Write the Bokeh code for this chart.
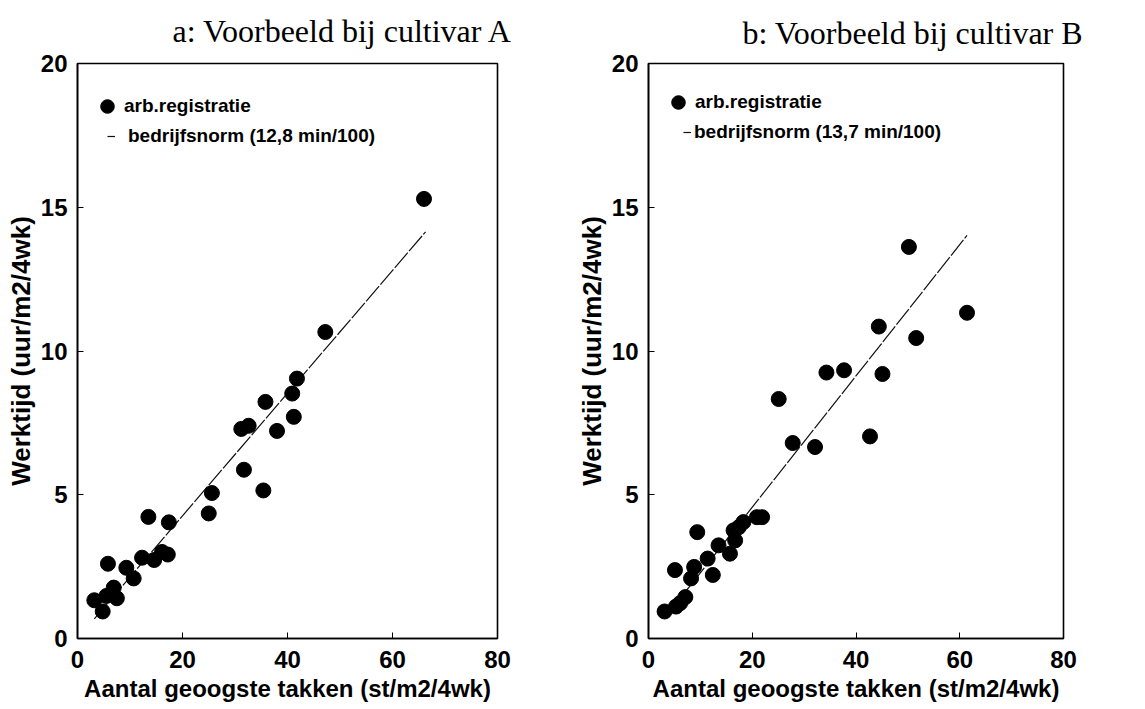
from bokeh.plotting import figure
from bokeh.layouts import row
from bokeh.models import Range1d, FixedTicker, Legend, LegendItem
from bokeh.embed import file_html
from bokeh.resources import INLINE

# ---- data ----
a_x = [3.2, 4.8, 5.5, 6.9, 7.5, 5.8, 9.3, 10.7, 12.3, 13.5, 14.6, 16.1, 17.2, 17.4,
       25.0, 25.6, 31.2, 32.6, 31.7, 35.8, 35.4, 38.0, 40.9, 41.2, 41.8, 47.2, 66.0]
a_y = [1.33, 0.94, 1.48, 1.77, 1.40, 2.60, 2.46, 2.09, 2.81, 4.23, 2.73, 3.01, 2.92, 4.04,
       4.35, 5.06, 7.29, 7.40, 5.87, 8.23, 5.15, 7.22, 8.52, 7.71, 9.04, 10.66, 15.29]
b_x = [3.1, 5.1, 5.3, 6.1, 7.1, 8.2, 8.8, 9.4, 11.4, 12.4, 13.5, 15.7, 16.4, 16.7, 17.4,
       18.3, 20.9, 21.9, 25.1, 27.8, 32.1, 34.3, 37.7, 42.7, 45.1, 44.4, 50.2, 51.6, 61.4]
b_y = [0.94, 2.38, 1.11, 1.23, 1.44, 2.09, 2.49, 3.70, 2.78, 2.21, 3.24, 2.95, 3.76, 3.41, 3.87,
       4.05, 4.22, 4.22, 8.33, 6.80, 6.66, 9.25, 9.33, 7.03, 9.20, 10.85, 13.62, 10.45, 11.33]
norm_a = 12.8   # min/100
norm_b = 13.7
norm_x_a = [3.2, 66.3]
norm_x_b = [3.1, 61.4]
x_ticks = [0, 20, 40, 60, 80]
y_ticks = [0, 5, 10, 15, 20]
titles = ["a:  Voorbeeld bij cultivar A", "b:  Voorbeeld bij cultivar B"]
legend_labels_a = ["arb.registratie", "bedrijfsnorm (12,8 min/100)"]
legend_labels_b = ["arb.registratie", "bedrijfsnorm (13,7 min/100)"]
x_label = "Aantal geoogste takken (st/m2/4wk)"
y_label = "Werktijd (uur/m2/4wk)"

SANS = "Liberation Sans"
SERIF = "Liberation Serif"


def make_panel(xs, ys, norm, norm_x, title, labels, width, height, bl, br, bt, bb,
               title_off, title_so, frame_h, dot_x, lab2_x):
    p = figure(width=width, height=height, output_backend="svg", toolbar_location=None,
               x_range=Range1d(0, 80), y_range=Range1d(0, 20),
               min_border_left=bl, min_border_right=br, min_border_top=bt, min_border_bottom=bb)
    p.title.text = title
    p.title.text_font = SERIF
    p.title.text_font_size = "32px"
    p.title.text_font_style = "normal"
    p.title.text_color = "black"
    p.title.align = "left"
    p.title.vertical_align = "top"
    p.title.offset = title_off
    p.title.standoff = title_so
    p.grid.visible = False
    p.outline_line_color = "black"
    p.outline_line_width = 1.6
    p.background_fill_color = "white"
    p.border_fill_color = "white"

    for ax in (p.xaxis[0], p.yaxis[0]):
        ax.axis_line_color = "black"
        ax.axis_line_width = 1.6
        ax.major_tick_in = 6
        ax.major_tick_out = 0
        ax.major_tick_line_color = "black"
        ax.minor_tick_line_color = None
        ax.major_label_text_font = SANS
        ax.major_label_text_font_style = "bold"
        ax.major_label_text_font_size = "24px"
        ax.major_label_text_color = "black"
        ax.axis_label_text_font = SANS
        ax.axis_label_text_font_style = "bold"
        ax.axis_label_text_color = "black"
    p.xaxis.axis_label_text_font_size = "24px"
    p.yaxis.axis_label_text_font_size = "26px"
    p.xaxis.ticker = FixedTicker(ticks=x_ticks)
    p.yaxis.ticker = FixedTicker(ticks=y_ticks)
    p.xaxis.axis_label = x_label
    p.yaxis.axis_label = y_label
    p.xaxis.major_label_standoff = 12
    p.xaxis.axis_label_standoff = 4
    p.yaxis.major_label_standoff = 10
    p.yaxis.axis_label_standoff = 2

    ny = [v * norm / 60.0 for v in norm_x]
    ln = p.line(norm_x, ny, line_color="#111111", line_width=1.2, line_dash="20 2")
    sc = p.scatter(xs, ys, size=15, fill_color="black", line_color="black", marker="circle")

    common = dict(background_fill_alpha=0, border_line_color=None, padding=0, margin=0,
                  label_text_font=SANS, label_text_font_style="bold",
                  label_text_font_size="19px", label_text_color="black")
    leg1 = Legend(items=[LegendItem(label=labels[0], renderers=[sc])],
                  location=(13, frame_h - 63), glyph_width=34, glyph_height=34,
                  label_height=34, label_standoff=0, **common)
    leg2 = Legend(items=[LegendItem(label=labels[1], renderers=[ln])],
                  location=(dot_x, frame_h - 87), glyph_width=8, glyph_height=16,
                  label_height=16, label_standoff=lab2_x - dot_x - 8, **common)
    p.add_layout(leg1, "center")
    p.add_layout(leg2, "center")
    return p


p1 = make_panel(a_x, a_y, norm_a, norm_x_a, titles[0], legend_labels_a,
                570, 706, 77, 73, 60, 68, 95, 25, 578, 30, 51)
p2 = make_panel(b_x, b_y, norm_b, norm_x_b, titles[1], legend_labels_b,
                567, 706, 78, 74, 57, 67, 94, 22, 582, 35, 46)

layout = row(p1, p2)
open("out.html", "w").write(file_html(layout, INLINE))
